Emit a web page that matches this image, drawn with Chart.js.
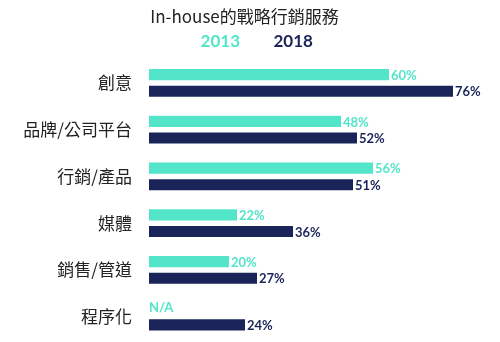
<!DOCTYPE html>
<html>
<head>
<meta charset="utf-8">
<script src="https://cdn.jsdelivr.net/npm/chart.js@4"></script>
<style>
  html, body { margin: 0; padding: 0; background: #fff; }
  #wrap { width: 500px; height: 342px; }
  canvas { display: block; }
</style>
</head>
<body>
<div id="wrap"><canvas id="servChart"></canvas></div>
<script>
const categories = ['創意', '品牌/公司平台', '行銷/產品', '媒體', '銷售/管道', '程序化'];
const years = ['2013', '2018'];
const values2013 = [60, 48, 56, 22, 20, null];
const values2018 = [76, 52, 51, 36, 27, 24];

const TEAL = '#52e5c9';
const NAVY = '#1b2458';
const CJK = '"Noto Sans CJK TC", "Noto Sans", sans-serif';

// value text after each bar, N/A when there is no value
const valueLabels = {
    id: 'valueLabels',
    afterDatasetsDraw(chart) {
        const ctx = chart.ctx;
        ctx.save();
        ctx.font = 'bold 13px Lato, "Noto Sans", sans-serif';
        ctx.textBaseline = 'middle';
        ctx.textAlign = 'left';
        chart.data.datasets.forEach((ds, i) => {
            const meta = chart.getDatasetMeta(i);
            meta.data.forEach((bar, j) => {
                ctx.fillStyle = ds.backgroundColor;
                const v = ds.data[j];
                if (v === null) {
                    const x0 = chart.scales.x.getPixelForValue(0);
                    const yc = chart.scales.y.getPixelForValue(j);
                    const y = yc - (chart.getDatasetMeta(1).data[j].y - yc);
                    ctx.fillText('N/A', x0, y - 1);
                } else {
                    ctx.fillText(v + '%', bar.x + 2, bar.y + 1);
                }
            });
        });
        ctx.restore();
    }
};

new Chart(document.getElementById('servChart').getContext('2d'), {
    type: 'bar',
    data: {
        labels: categories,
        datasets: [
            { label: years[0], data: values2013, backgroundColor: TEAL },
            { label: years[1], data: values2018, backgroundColor: NAVY }
        ]
    },
    options: {
        indexAxis: 'y',
        responsive: true,
        maintainAspectRatio: false,
        animation: false,
        categoryPercentage: 0.71,
        barPercentage: 0.67,
        layout: { padding: { left: 0, right: 11, top: 0, bottom: 2 } },
        scales: {
            x: { display: false, min: 0, max: 85 },
            y: {
                grid: { display: false, drawTicks: false },
                border: { display: false },
                ticks: { color: '#222', font: { family: CJK, size: 17 }, padding: 17 },
                afterFit(scale) {
                    scale.width = 149;
                    scale.paddingTop = 0;
                    scale.paddingBottom = 0;
                }
            }
        },
        plugins: {
            title: {
                display: true,
                text: 'In-house的戰略行銷服務',
                color: '#222',
                font: { family: CJK, size: 17, weight: 'normal', lineHeight: 0.8 },
                padding: { top: 10, bottom: 0 }
            },
            legend: {
                position: 'top',
                labels: {
                    boxWidth: 16,
                    padding: 9,
                    font: { family: 'Lato, "Noto Sans", sans-serif', size: 17, weight: 'bold' },
                    generateLabels(chart) {
                        return chart.data.datasets.map((ds, i) => ({
                            text: ds.label,
                            fontColor: ds.backgroundColor,
                            fillStyle: 'rgba(0,0,0,0)',
                            strokeStyle: 'rgba(0,0,0,0)',
                            lineWidth: 0,
                            datasetIndex: i
                        }));
                    }
                }
            },
            tooltip: { enabled: false }
        }
    },
    plugins: [valueLabels]
});
</script>
</body>
</html>
